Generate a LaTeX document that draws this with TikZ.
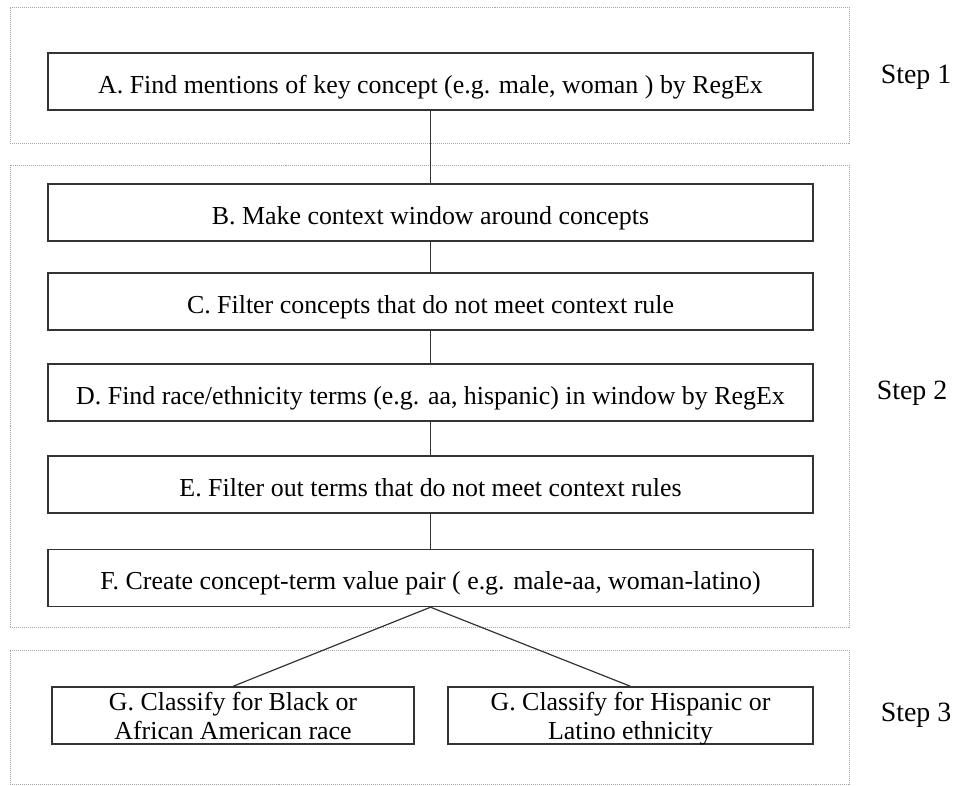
\documentclass[tikz,border=0pt]{standalone}
\usepackage{fontspec}
\setmainfont{Liberation Serif}
\usetikzlibrary{positioning}

\newcommand{\twolines}[2]{\begin{tabular}[t]{@{}c@{}}#1\\#2\end{tabular}}

\tikzset{
  panel/.style={draw=black!35, densely dotted, line width=1bp, minimum width=839bp, inner sep=0pt},
  box/.style={draw=black!80, line width=1.4bp, fill=white, minimum height=57bp,
    inner sep=0pt, font=\fontsize{26}{30}\selectfont},
  stepbox/.style={box, minimum width=765bp, text height=26bp, text depth=3bp},
  classbox/.style={box, text height=20bp, text depth=31bp},
  link/.style={line width=1.2bp, black!80},
  steplabel/.style={font=\fontsize{28}{32}\selectfont},
}

\begin{document}
\begin{tikzpicture}
	\useasboundingbox (0bp,0bp) rectangle (961bp,-786bp);

	% the three step panels
	\node[panel, minimum height=136bp] (P1) at (429.5bp,-75bp)  {};
	\node[panel, minimum height=462bp] (P2) at (429.5bp,-396bp) {};
	\node[panel, minimum height=134bp] (P3) at (429.5bp,-717bp) {};

	\node[steplabel] (S1) at (916bp,-77bp)  {Step 1};
	\node[steplabel] (S2) at (912bp,-393bp) {Step 2};
	\node[steplabel] (S3) at (916bp,-715bp) {Step 3};

	\node[stepbox] (A) at (430.5bp,-81.5bp)  {A. Find mentions of key concept (e.g. male, woman ) by RegEx};
	\node[stepbox] (B) at (430.5bp,-212.5bp) {B. Make context window around concepts};
	\node[stepbox] (C) at (430.5bp,-301.5bp) {C. Filter concepts that do not meet context rule};
	\node[stepbox] (D) at (430.5bp,-392.5bp) {D. Find race/ethnicity terms (e.g. aa, hispanic) in window by RegEx};
	\node[stepbox] (E) at (430.5bp,-484.5bp) {E. Filter out terms that do not meet context rules};
	\node[stepbox] (F) at (430.5bp,-578bp)   {F. Create concept-term value pair ( e.g. male-aa, woman-latino)};
	\node[classbox, minimum width=362bp] (G1) at (233bp,-715.5bp)   {\twolines{G. Classify for Black or}{African American race}};
	\node[classbox, minimum width=365bp] (G2) at (630.5bp,-715.5bp) {\twolines{G. Classify for Hispanic or}{Latino ethnicity}};

	\draw[link] (A) -- (B);
	\draw[link] (B) -- (C);
	\draw[link] (C) -- (D);
	\draw[link] (D) -- (E);
	\draw[link] (E) -- (F);
	\draw[link] (F.south) -- (G1.north);
	\draw[link] (F.south) -- (G2.north);
\end{tikzpicture}
\end{document}
